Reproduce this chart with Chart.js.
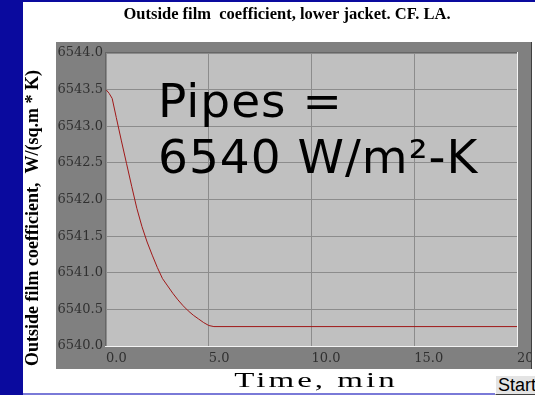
<!DOCTYPE html>
<html><head><meta charset="utf-8">
<script src="https://cdn.jsdelivr.net/npm/chart.js@4/dist/chart.umd.min.js"></script>
<style>
html,body{margin:0;padding:0;overflow:hidden;background:#fff;width:535px;height:395px}
#wrap{position:relative;width:535px;height:395px;overflow:hidden}
canvas{position:absolute;left:0;top:0}
#start{position:absolute;left:495px;top:375px;width:48px;height:18px;background:#e4e4e4;border-top:1px solid #fff;border-left:1px solid #fff;border-bottom:1px solid #404040;font:18px "Liberation Sans",Arial,sans-serif;line-height:18px;color:#000;padding-left:2px;box-sizing:content-box}
</style></head><body>
<div id="wrap"><canvas id="c" width="535" height="395"></canvas><div id="start">Start</div></div>
<script>
// Data
const timeMin = [0, 0.15, 0.3, 0.5, 0.75, 1.0, 1.25, 1.5, 1.75, 2.0, 2.25, 2.5, 2.75, 3.0, 3.25, 3.5, 3.75, 4.0, 4.25, 4.5, 4.75, 5.0, 5.25, 20];
const filmCoef = [6543.5, 6543.45, 6543.38, 6543.12, 6542.8, 6542.49, 6542.18, 6541.88, 6541.63, 6541.42, 6541.24, 6541.07, 6540.92, 6540.82, 6540.72, 6540.63, 6540.55, 6540.48, 6540.42, 6540.37, 6540.32, 6540.28, 6540.265, 6540.265];
const xTicks = [0, 5, 10, 15, 20];
const yTicks = [6540, 6540.5, 6541, 6541.5, 6542, 6542.5, 6543, 6543.5, 6544];
const chartTitle = 'Outside film  coefficient, lower jacket. CF. LA.';
const yTitle = 'Outside film coefficient,  W/(sq.m * K)';
const xTitle = 'Time, min';
const noteLines = ['Pipes =', '6540 W/m\u00B2-K'];

const serif = '"Liberation Serif","Times New Roman",serif';
const tickFont = '"DejaVu Serif",serif';

const decor = {
  id: 'decor',
  beforeDraw(chart) {
    const ctx = chart.ctx, a = chart.chartArea;
    ctx.save();
    ctx.fillStyle = '#fff'; ctx.fillRect(0, 0, 535, 395);
    ctx.fillStyle = '#0a0a9e'; ctx.fillRect(0, 0, 535, 2); ctx.fillRect(0, 0, 23, 395);
    ctx.fillStyle = '#7a7ad8'; ctx.fillRect(23, 393, 512, 2);
    ctx.fillStyle = '#808080'; ctx.fillRect(56, 42, 475, 327);
    ctx.fillStyle = '#c0c0c0'; ctx.fillRect(a.left, a.top, a.right - a.left, a.bottom - a.top);
    ctx.restore();
  },
  afterDraw(chart) {
    const ctx = chart.ctx, a = chart.chartArea;
    ctx.save();
    ctx.fillStyle = '#666'; ctx.fillRect(a.left - 1, a.top - 1, a.right - a.left + 1, 1); ctx.fillRect(a.left - 1, a.top - 1, 1, a.bottom - a.top + 1);
    ctx.fillStyle = '#f4f4f4'; ctx.fillRect(a.right, a.top - 1, 1, a.bottom - a.top + 2); ctx.fillRect(a.left - 1, a.bottom, a.right - a.left + 2, 1);
    ctx.fillStyle = '#fff'; ctx.fillRect(532, 40, 3, 332);
    ctx.fillStyle = '#404040'; ctx.fillRect(531, 42, 1, 327);
    ctx.fillStyle = '#000'; ctx.textAlign = 'center'; ctx.textBaseline = 'middle';
    ctx.font = 'bold 16.5px ' + serif;
    ctx.fillText(chartTitle, 287, 15);
    ctx.save(); ctx.translate(33, 218); ctx.rotate(-Math.PI / 2);
    ctx.font = 'bold 18px ' + serif; ctx.fillText(yTitle, 0, 0); ctx.restore();
    ctx.save(); ctx.translate(316, 381); ctx.scale(1.5, 1);
    ctx.letterSpacing = '2px';
    ctx.font = '22px ' + serif; ctx.fillText(xTitle, 0, 0); ctx.restore();
    ctx.textAlign = 'left'; ctx.textBaseline = 'alphabetic';
    ctx.font = '47px "DejaVu Sans",Verdana,sans-serif';
    ctx.letterSpacing = '1px';
    ctx.fillText(noteLines[0], 158, 117);
    ctx.fillText(noteLines[1], 158, 173);
    ctx.restore();
  }
};

new Chart(document.getElementById('c'), {
  type: 'line',
  data: { datasets: [{
    data: timeMin.map((t, i) => ({ x: t, y: filmCoef[i] })),
    borderColor: '#a01818', borderWidth: 1, pointRadius: 0, tension: 0, fill: false
  }] },
  options: {
    responsive: false, animation: false, devicePixelRatio: 1,
    layout: { padding: { left: 56, top: 53, right: 18, bottom: 26 } },
    plugins: { legend: { display: false }, tooltip: { enabled: false }, title: { display: false } },
    scales: {
      x: {
        type: 'linear', min: 0, max: 20,
        afterBuildTicks(s) { s.ticks = xTicks.map(v => ({ value: v })); },
        ticks: { align: 'start', autoSkip: false, maxRotation: 0, padding: 5, color: '#303030',
          font: { family: tickFont, size: 13 }, callback: v => Number(v).toFixed(1) },
        grid: { color: '#8c8c8c', lineWidth: 1, drawTicks: false },
        border: { display: false },
        afterFit(s) { s.height = 23; s.paddingLeft = 0; s.paddingRight = 0; }
      },
      y: {
        type: 'linear', min: 6540, max: 6544,
        afterBuildTicks(s) { s.ticks = yTicks.map(v => ({ value: v })); },
        ticks: { padding: 3, color: '#303030', font: { family: tickFont, size: 13 },
          callback: v => Number(v).toFixed(1) },
        grid: { color: '#8c8c8c', lineWidth: 1, drawTicks: false },
        border: { display: false },
        afterFit(s) { s.width = 50; s.paddingTop = 0; s.paddingBottom = 0; }
      }
    }
  },
  plugins: [decor]
});
</script>
</body></html>
